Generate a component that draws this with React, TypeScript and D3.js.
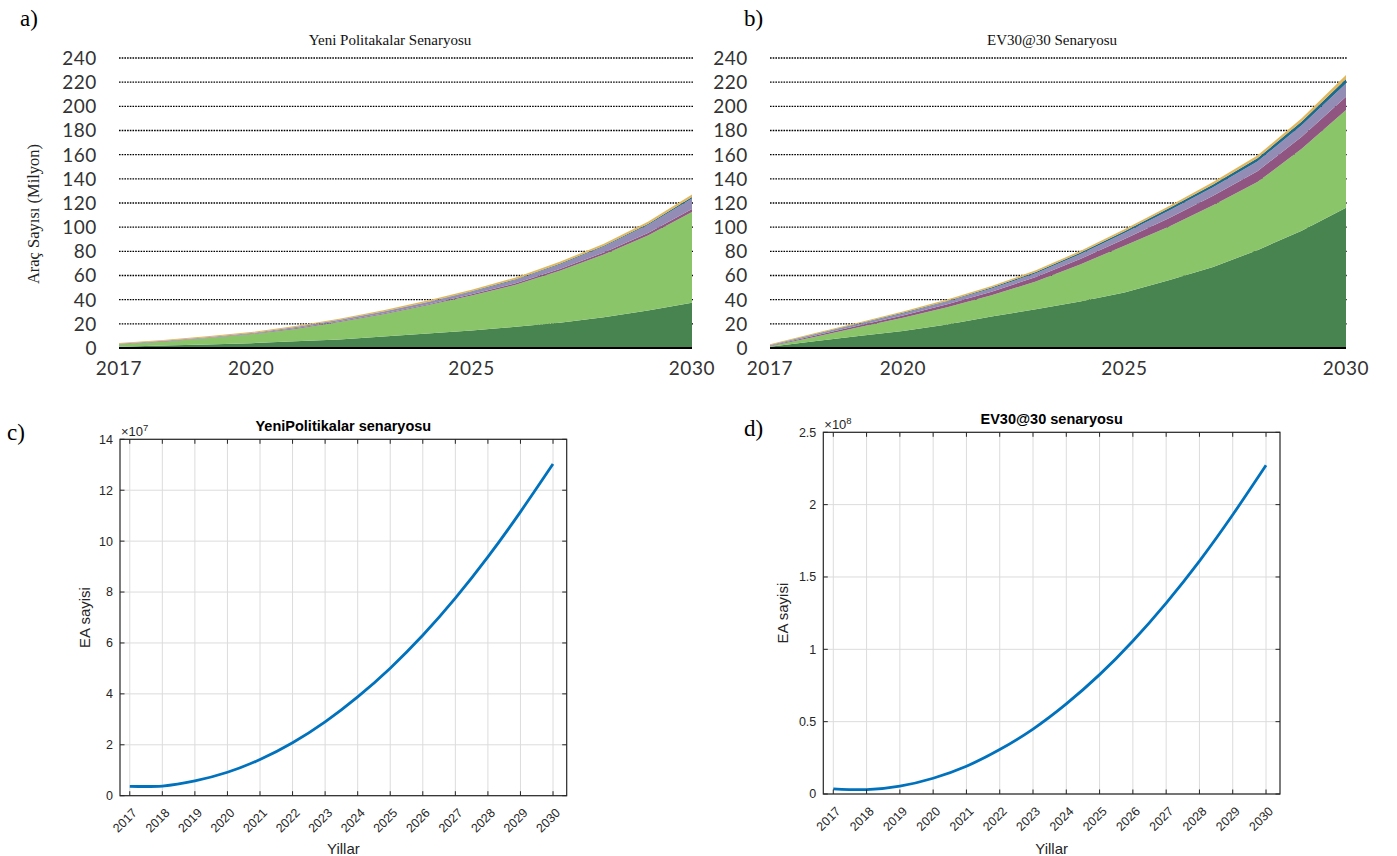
import React from "react";
import * as d3 from "d3";

// ---------- shared axes ----------
const YEARS = [2017, 2018, 2019, 2020, 2021, 2022, 2023, 2024, 2025, 2026, 2027, 2028, 2029, 2030];
const STACK_YEAR_LABELS = [2017, 2020, 2025, 2030];
const STACK_Y_TICKS = [0, 20, 40, 60, 80, 100, 120, 140, 160, 180, 200, 220, 240];

// ---------- Yeni Politikalar: vehicle stock by segment (million) ----------
const ypSeg1 = [1, 2, 3, 4, 5.5, 7, 9.5, 12, 14.5, 17.5, 21, 25.5, 31, 37.5];
const ypSeg2 = [1.9, 3.2, 5.0, 7.3, 10.3, 14.5, 18.4, 23.3, 28.9, 34.8, 43.0, 51.9, 62.2, 75.1];
const ypSeg3 = [0.2, 0.3, 0.3, 0.4, 0.5, 0.6, 0.7, 0.8, 1, 1.2, 1.4, 1.7, 2, 2.5];
const ypSeg4 = [0.3, 0.4, 0.5, 0.6, 0.8, 1, 1.3, 1.7, 2.2, 2.9, 3.8, 4.9, 6.5, 8.7];
const ypSeg5 = [0.1, 0.1, 0.1, 0.1, 0.2, 0.2, 0.3, 0.3, 0.4, 0.5, 0.6, 0.7, 0.9, 1.2];
const ypSeg6 = [0.7, 0.7, 0.8, 0.8, 0.9, 1, 1.1, 1.2, 1.3, 1.4, 1.5, 1.6, 1.8, 2];

// ---------- EV30@30: vehicle stock by segment (million) ----------
const evSeg1 = [1, 5.5, 10, 14, 19.5, 26, 32, 38.5, 46, 56, 67, 81, 97, 116];
const evSeg2 = [0.4, 3.7, 7.1, 11.0, 14.3, 17.6, 23.0, 30.6, 38.7, 44.3, 51.1, 56.3, 67.8, 81.0];
const evSeg3 = [0.4, 1, 1.5, 2, 2.5, 3, 3.7, 4.5, 5.5, 7, 8, 9, 10, 11];
const evSeg4 = [0.4, 0.8, 1.2, 1.6, 2.1, 2.6, 3.2, 4, 5, 6.3, 7, 8, 9.5, 11];
const evSeg5 = [0.2, 0.3, 0.4, 0.5, 0.6, 0.8, 1, 1.2, 1.5, 2, 2.3, 2.7, 3.1, 3.6];
const evSeg6 = [0.8, 0.9, 1, 1.1, 1.2, 1.3, 1.4, 1.5, 1.6, 1.8, 2, 2.3, 2.8, 3.4];

const SEG_KEYS = ["s1", "s2", "s3", "s4", "s5", "s6"];
const SEG_COLORS = ["#47844f", "#8bc56a", "#915581", "#938db5", "#1d6b8c", "#e2b75c"];

// ---------- fitted EA totals (vehicles) ----------
const ypFit = [3.7e6, 3.8e6, 5.8e6, 9.2e6, 14.2e6, 20.8e6, 29.0e6, 38.8e6, 50.1e6, 63.0e6, 77.6e6, 93.8e6, 111.5e6, 130.3e6];
const evFit = [3.6e6, 3.0e6, 5.4e6, 10.9e6, 19.2e6, 30.7e6, 44.9e6, 62.3e6, 82.5e6, 105.8e6, 132.0e6, 161.0e6, 193.0e6, 227.2e6];
const ypFitTicks = [0, 2, 4, 6, 8, 10, 12, 14];
const evFitTicks = [0, 0.5, 1, 1.5, 2, 2.5];

const FONT_SERIF = "'Liberation Serif', 'Times New Roman', serif";
const FONT_XL = "Lato, 'Open Sans', sans-serif";
const FONT_ML = "'Liberation Sans', Arial, Helvetica, sans-serif";
const ML_TEXT = "#262626";

type StackProps = {
  left: number; right: number; top: number; bottom: number;
  series: number[][]; title: string; titleX: number;
  yLabel?: string; panel: string; panelX: number;
};

function StackPanel({ left, right, top, bottom, series, title, titleX, yLabel, panel, panelX }: StackProps) {
  const x = d3.scaleLinear().domain([2017, 2030]).range([left, right]);
  const y = d3.scaleLinear().domain([0, 240]).range([bottom, top]);
  const rows = YEARS.map((yr, i) => {
    const r: Record<string, number> = { year: yr };
    SEG_KEYS.forEach((k, j) => (r[k] = series[j][i]));
    return r;
  });
  const stacked = d3.stack<Record<string, number>>().keys(SEG_KEYS)(rows);
  const area = d3
    .area<d3.SeriesPoint<Record<string, number>>>()
    .x((d) => x(d.data.year))
    .y0((d) => y(d[0]))
    .y1((d) => y(d[1]));

  return (
    <g>
      <text x={panelX} y={26} fontFamily={FONT_SERIF} fontSize={23} fill="#000">{panel}</text>
      <text x={titleX} y={45} textAnchor="middle" fontFamily={FONT_SERIF} fontSize={15} fill="#111">{title}</text>
      {STACK_Y_TICKS.filter((t) => t > 0).map((t) => (
        <line key={t} x1={left} x2={right + 1} y1={y(t)} y2={y(t)} stroke="#000" strokeWidth={1.3} strokeDasharray="1.6 1.1" />
      ))}
      {stacked.map((s, i) => (
        <path key={SEG_KEYS[i]} d={area(s) || ""} fill={SEG_COLORS[i]} />
      ))}
      <line x1={left} x2={right} y1={y(0)} y2={y(0)} stroke="#000" strokeWidth={2} />
      {STACK_Y_TICKS.map((t) => (
        <text key={t} x={left - 22} y={y(t)} dy="0.36em" textAnchor="end" fontFamily={FONT_XL} fontSize={19} letterSpacing={0.6} fill="#333">{t}</text>
      ))}
      {STACK_YEAR_LABELS.map((yr) => (
        <text key={yr} x={x(yr)} y={bottom + 27} textAnchor="middle" fontFamily={FONT_XL} fontSize={19} letterSpacing={0.6} fill="#333">{yr}</text>
      ))}
      {yLabel && (
        <text transform={`translate(39,214) rotate(-90)`} textAnchor="middle" fontFamily={FONT_SERIF} fontSize={16.5} fill="#222">{yLabel}</text>
      )}
    </g>
  );
}

type FitProps = {
  left: number; right: number; top: number; bottom: number;
  values: number[]; ticks: number[]; exponent: number;
  title: string; panel: string; panelX: number; panelY: number; yLabelX: number;
};

function FitPanel({ left, right, top, bottom, values, ticks, exponent, title, panel, panelX, panelY, yLabelX }: FitProps) {
  const scale = Math.pow(10, exponent);
  const x = d3.scaleLinear().domain([2016.7, 2030.42]).range([left, right]);
  const y = d3.scaleLinear().domain([0, ticks[ticks.length - 1] * scale]).range([bottom, top]);
  const line = d3
    .line<number>()
    .x((_, i) => x(YEARS[i]))
    .y((v) => y(v))
    .curve(d3.curveNatural);
  const cx = (left + right) / 2;
  const cy = (top + bottom) / 2;
  const tl = 4.5;
  return (
    <g fontFamily={FONT_ML} fill={ML_TEXT}>
      <text x={panelX} y={panelY} fontFamily={FONT_SERIF} fontSize={23} fill="#000">{panel}</text>
      {/* grid */}
      {YEARS.map((yr) => (
        <line key={"gx" + yr} x1={x(yr)} x2={x(yr)} y1={top} y2={bottom} stroke="#dcdcdc" strokeWidth={1} />
      ))}
      {ticks.map((t) => (
        <line key={"gy" + t} x1={left} x2={right} y1={y(t * scale)} y2={y(t * scale)} stroke="#dcdcdc" strokeWidth={1} />
      ))}
      {/* fitted curve */}
      <path d={line(values) || ""} fill="none" stroke="#0072BD" strokeWidth={2.8} />
      {/* box and ticks */}
      <rect x={left} y={top} width={right - left} height={bottom - top} fill="none" stroke={ML_TEXT} strokeWidth={1.2} />
      {YEARS.map((yr) => (
        <g key={"tx" + yr}>
          <line x1={x(yr)} x2={x(yr)} y1={bottom} y2={bottom - tl} stroke={ML_TEXT} />
          <line x1={x(yr)} x2={x(yr)} y1={top} y2={top + tl} stroke={ML_TEXT} />
          <text transform={`translate(${x(yr) + 8},${bottom + 18}) rotate(-45)`} textAnchor="end" fontSize={12.5}>{yr}</text>
        </g>
      ))}
      {ticks.map((t) => (
        <g key={"ty" + t}>
          <line x1={left} x2={left + tl} y1={y(t * scale)} y2={y(t * scale)} stroke={ML_TEXT} />
          <line x1={right} x2={right - tl} y1={y(t * scale)} y2={y(t * scale)} stroke={ML_TEXT} />
          <text x={left - 7} y={y(t * scale)} dy="0.35em" textAnchor="end" fontSize={12.5}>{t}</text>
        </g>
      ))}
      {/* exponent label */}
      <text x={left + 1} y={top - 3} fontSize={13}>
        ×10<tspan dy={-5} fontSize={9.5}>{exponent}</tspan>
      </text>
      <text x={cx} y={top - 8} textAnchor="middle" fontSize={14.5} fontWeight="bold" fill="#000">{title}</text>
      <text transform={`translate(${yLabelX},${cy}) rotate(-90)`} textAnchor="middle" fontSize={15}>EA sayisi</text>
      <text x={cx} y={854} textAnchor="middle" fontSize={15}>Yillar</text>
    </g>
  );
}

export default function App() {
  return (
    <svg
      width={1397}
      height={856}
      viewBox="0 0 1397 856"
      style={{ position: "absolute", left: 0, top: 0, background: "#fff" }}
    >
      <rect width={1397} height={856} fill="#fff" />
      <StackPanel
        left={119} right={692} top={58} bottom={348}
        series={[ypSeg1, ypSeg2, ypSeg3, ypSeg4, ypSeg5, ypSeg6]}
        title="Yeni Politakalar Senaryosu" titleX={390}
        yLabel="Araç Sayısı (Milyon)" panel="a)" panelX={20}
      />
      <StackPanel
        left={770} right={1346} top={58} bottom={348}
        series={[evSeg1, evSeg2, evSeg3, evSeg4, evSeg5, evSeg6]}
        title="EV30@30 Senaryosu" titleX={1052}
        panel="b)" panelX={744}
      />
      <FitPanel
        left={120} right={566.7} top={439.3} bottom={795.7}
        values={ypFit} ticks={ypFitTicks} exponent={7}
        title="YeniPolitikalar senaryosu" panel="c)" panelX={7} panelY={440} yLabelX={90}
      />
      <FitPanel
        left={823.3} right={1280} top={432.3} bottom={794}
        values={evFit} ticks={evFitTicks} exponent={8}
        title="EV30@30 senaryosu" panel="d)" panelX={744} panelY={436} yLabelX={788}
      />
    </svg>
  );
}
